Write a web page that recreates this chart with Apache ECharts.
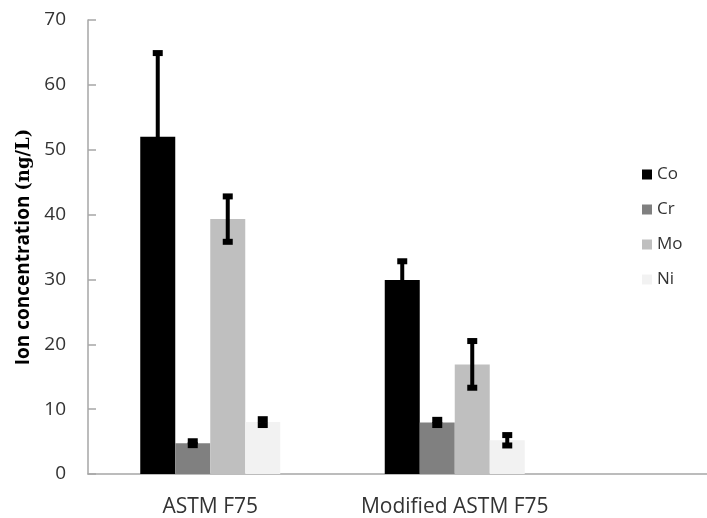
<!DOCTYPE html>
<html>
<head>
<meta charset="utf-8">
<script src="https://cdn.jsdelivr.net/npm/echarts@6/dist/echarts.min.js"></script>
<style>
html,body{margin:0;padding:0;background:#fff;}
#chart{width:707px;height:518px;}
</style>
</head>
<body>
<div id="chart"></div>
<script>
const categories = ['ASTM F75', 'Modified ASTM F75'];
const seriesNames = ['Co', 'Cr', 'Mo', 'Ni'];
const coValues = [52.0, 29.9];
const crValues = [4.75, 7.95];
const moValues = [39.3, 16.9];
const niValues = [8.0, 5.2];
const coErrors = [12.9, 2.9];
const crErrors = [0.3, 0.4];
const moErrors = [3.5, 3.6];
const niErrors = [0.45, 0.8];
const yTicks = [0, 10, 20, 30, 40, 50, 60, 70];

const values = [coValues, crValues, moValues, niValues];
const errors = [coErrors, crErrors, moErrors, niErrors];
const colors = ['#000000', '#808080', '#bfbfbf', '#f2f2f2'];
const BAR_W = 35;
const FONT = '"Open Sans", sans-serif';

const chart = echarts.init(document.getElementById('chart'));

const barSeries = seriesNames.map((name, k) => ({
  name: name,
  type: 'bar',
  xAxisIndex: 0,
  yAxisIndex: 0,
  data: values[k],
  barWidth: BAR_W,
  barGap: '0%',
  itemStyle: { color: colors[k] },
  emphasis: { disabled: true },
  z: 2
}));

const errSeries = seriesNames.map((name, k) => ({
  type: 'custom',
  xAxisIndex: 0,
  yAxisIndex: 0,
  data: values[k].map((v, i) => [i, v, errors[k][i]]),
  z: 5,
  silent: true,
  renderItem: function (params, api) {
    const idx = api.value(0);
    const v = api.value(1);
    const e = api.value(2);
    const hi = api.coord([idx, v + e]);
    const lo = api.coord([idx, v - e]);
    const x = hi[0] + (k - 1.5) * BAR_W;
    const capW = 10, capH = 6;
    return {
      type: 'group',
      children: [
        { type: 'line', shape: { x1: x, y1: hi[1], x2: x, y2: lo[1] },
          style: { stroke: '#000', lineWidth: 4 } },
        { type: 'rect', shape: { x: x - capW / 2, y: hi[1] - capH / 2, width: capW, height: capH },
          style: { fill: '#000' } },
        { type: 'rect', shape: { x: x - capW / 2, y: lo[1] - capH / 2, width: capW, height: capH },
          style: { fill: '#000' } }
      ]
    };
  }
}));

const option = {
  backgroundColor: '#ffffff',
  animation: false,
  grid: [
    { left: 88, top: 20, bottom: 44, width: 489 },
    { left: 88, top: 20, bottom: 44, right: 0 }
  ],
  legend: {
    data: seriesNames,
    orient: 'vertical',
    left: 637,
    top: 161,
    icon: 'rect',
    itemWidth: 10,
    itemHeight: 10,
    itemGap: 18,
    textStyle: { fontFamily: FONT, fontSize: 17, color: '#333' }
  },
  xAxis: [
    {
      type: 'category',
      gridIndex: 0,
      data: categories,
      axisLine: { show: false },
      axisTick: { show: false },
      axisLabel: { fontFamily: FONT, fontSize: 21, color: '#333', margin: 23 }
    },
    {
      type: 'category',
      gridIndex: 1,
      data: [''],
      axisLine: { show: true, lineStyle: { color: '#a6a6a6', width: 1.5 } },
      axisTick: { show: false },
      axisLabel: { show: false }
    }
  ],
  yAxis: [
    {
      type: 'value',
      gridIndex: 0,
      min: yTicks[0],
      max: yTicks[yTicks.length - 1],
      interval: yTicks[1] - yTicks[0],
      name: 'Ion concentration {s|(ng/L)}',
      nameLocation: 'middle',
      nameRotate: 90,
      nameGap: 53,
      nameTextStyle: {
        fontFamily: FONT, fontSize: 19, fontWeight: 'bold', color: '#000',
        rich: { s: { fontFamily: '"DejaVu Serif", serif', fontSize: 18, fontWeight: 'bold', color: '#000' } }
      },
      axisLine: { show: true, lineStyle: { color: '#a6a6a6', width: 1.5 } },
      axisTick: { show: true, inside: true, length: 8, lineStyle: { color: '#a6a6a6', width: 1.5 } },
      axisLabel: { fontFamily: FONT, fontSize: 19, color: '#333', margin: 22 },
      splitLine: { show: false }
    },
    {
      type: 'value',
      gridIndex: 1,
      min: 0,
      max: 1,
      show: false
    }
  ],
  series: barSeries.concat(errSeries)
};

chart.setOption(option);
</script>
</body>
</html>
